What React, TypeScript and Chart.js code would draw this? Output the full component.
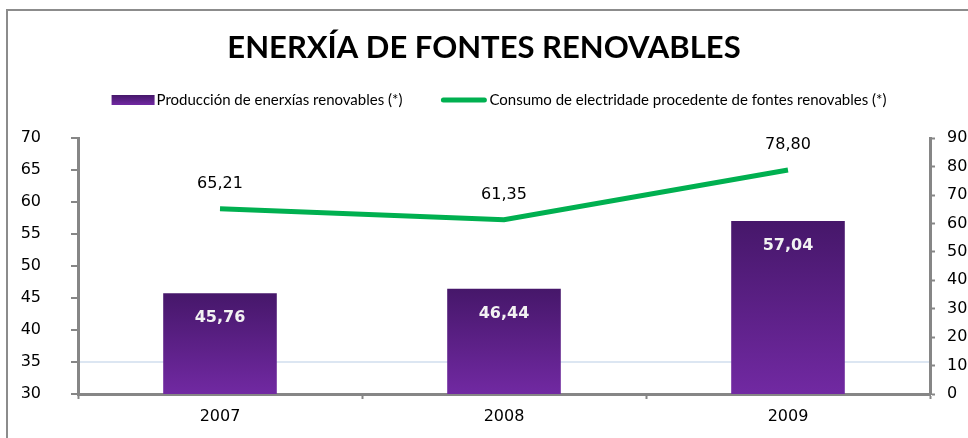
import React, { useEffect, useRef } from "react";
import { Chart, registerables } from "chart.js";

Chart.register(...registerables);

const categories = ["2007", "2008", "2009"];
const produccion = [45.76, 46.44, 57.04];
const consumo = [65.21, 61.35, 78.8];
const titleText = "ENERXÍA DE FONTES RENOVABLES";
const seriesNames = [
  "Producción de enerxías renovables (*)",
  "Consumo de electridade procedente de fontes renovables (*)",
];

const fmt = (v: number) => v.toFixed(2).replace(".", ",");
const AXIS_GRAY = "#868686";
const BAR_TOP = "#46176a";
const BAR_BOTTOM = "#7129a2";
const LINE_GREEN = "#00b050";
const TICK_FONT = { family: "'DejaVu Sans', sans-serif", size: 16 };
const LEGEND_FONT = "15px Lato, sans-serif";

const barGradient = (c: any) => {
  const chart = c.chart;
  const y = chart.scales && chart.scales.y;
  if (!chart.chartArea || !y || c.type !== "data") return "#5a1f88";
  const top = y.getPixelForValue(c.raw);
  const base = y.getPixelForValue(y.min);
  const g = chart.ctx.createLinearGradient(0, top, 0, base);
  g.addColorStop(0, BAR_TOP);
  g.addColorStop(1, BAR_BOTTOM);
  return g;
};

const labelsPlugin = {
  id: "valueLabels",
  afterDatasetsDraw(chart: any) {
    const ctx = chart.ctx;
    ctx.save();
    ctx.textAlign = "center";
    ctx.textBaseline = "middle";
    const m0 = chart.getDatasetMeta(0);
    ctx.font = "bold 16px 'DejaVu Sans', sans-serif";
    ctx.fillStyle = "#f2f2f2";
    m0.data.forEach((bar: any, i: number) => {
      ctx.fillText(fmt(produccion[i]), bar.x, bar.y + 25);
    });
    const m1 = chart.getDatasetMeta(1);
    ctx.font = "16px 'DejaVu Sans', sans-serif";
    ctx.fillStyle = "#000";
    m1.data.forEach((pt: any, i: number) => {
      ctx.fillText(fmt(consumo[i]), pt.x, pt.y - 25);
    });
    ctx.restore();
  },
};

const legendPlugin = {
  id: "customLegend",
  afterDraw(chart: any) {
    const ctx = chart.ctx;
    ctx.save();
    ctx.font = LEGEND_FONT;
    ctx.textBaseline = "middle";
    ctx.textAlign = "left";
    const w1 = ctx.measureText(seriesNames[0]).width;
    const w2 = ctx.measureText(seriesNames[1]).width;
    const total = 43 + 2 + w1 + 39 + 45 + 3 + w2;
    const cy = 100;
    let x = 499 - total / 2;
    const g = ctx.createLinearGradient(0, cy - 5, 0, cy + 5);
    g.addColorStop(0, BAR_TOP);
    g.addColorStop(1, BAR_BOTTOM);
    ctx.fillStyle = g;
    ctx.fillRect(x, cy - 5, 43, 10);
    x += 45;
    ctx.fillStyle = "#000";
    ctx.fillText(seriesNames[0], x, cy);
    x += w1 + 39;
    ctx.strokeStyle = LINE_GREEN;
    ctx.lineWidth = 5;
    ctx.lineCap = "round";
    ctx.beginPath();
    ctx.moveTo(x + 2, cy);
    ctx.lineTo(x + 43, cy);
    ctx.stroke();
    x += 48;
    ctx.fillStyle = "#000";
    ctx.fillText(seriesNames[1], x, cy);
    ctx.restore();
  },
};

export default function App() {
  const ref = useRef<HTMLCanvasElement>(null);
  useEffect(() => {
    document.body.style.margin = "0";
    const chart = new Chart(ref.current!, {
      type: "bar",
      data: {
        labels: categories,
        datasets: [
          {
            type: "bar",
            label: seriesNames[0],
            data: produccion,
            backgroundColor: barGradient as any,
            barPercentage: 0.8,
            categoryPercentage: 0.5,
            yAxisID: "y",
            order: 2,
          },
          {
            type: "line",
            label: seriesNames[1],
            data: consumo,
            borderColor: LINE_GREEN,
            backgroundColor: LINE_GREEN,
            borderWidth: 5,
            pointRadius: 0,
            tension: 0,
            yAxisID: "y1",
            order: 1,
          },
        ],
      },
      options: {
        responsive: false,
        animation: false,
        layout: { padding: { left: 0, right: 0, top: 24, bottom: 0 } },
        plugins: {
          tooltip: { enabled: false },
          legend: { display: false },
          title: {
            display: true,
            text: titleText,
            color: "#000",
            font: { family: "Lato, sans-serif", size: 31, weight: "bold", lineHeight: 1.2 },
            padding: { top: 5, bottom: 72 },
          },
        },
        scales: {
          x: {
            grid: {
              offset: true,
              drawOnChartArea: false,
              drawTicks: true,
              tickLength: 5,
              tickColor: AXIS_GRAY,
              tickWidth: 2,
            },
            border: { color: AXIS_GRAY, width: 3 },
            ticks: { color: "#000", font: TICK_FONT, padding: 8 },
            afterFit: (s: any) => {
              s.height = 44;
            },
          },
          y: {
            position: "left",
            min: 30,
            max: 70,
            ticks: { stepSize: 5, color: "#000", font: TICK_FONT, padding: 30 },
            grid: {
              color: (c: any) => (c.tick && c.tick.value === 35 ? "#dce6f2" : "rgba(0,0,0,0)"),
              lineWidth: 2,
              tickLength: 7,
              tickColor: AXIS_GRAY,
              tickWidth: 2,
            },
            border: { color: AXIS_GRAY, width: 3 },
            afterFit: (s: any) => {
              s.width = 78;
            },
          },
          y1: {
            position: "right",
            min: 0,
            max: 90,
            ticks: { stepSize: 10, color: "#000", font: TICK_FONT, padding: 12 },
            grid: {
              drawOnChartArea: false,
              tickLength: 5,
              tickColor: AXIS_GRAY,
              tickWidth: 2,
            },
            border: { color: AXIS_GRAY, width: 3 },
            afterFit: (s: any) => {
              s.width = 38;
            },
          },
        },
      },
      plugins: [labelsPlugin, legendPlugin],
    });
    return () => chart.destroy();
  }, []);
  return (
    <div style={{ position: "relative", width: 968, height: 438, background: "#fff" }}>
      <canvas ref={ref} width={968} height={438} style={{ display: "block" }} />
      <div
        style={{
          position: "absolute",
          left: 6,
          top: 9,
          right: 0,
          bottom: 0,
          borderLeft: "2px solid #8c8c8c",
          borderTop: "2px solid #8c8c8c",
          pointerEvents: "none",
        }}
      />
    </div>
  );
}
